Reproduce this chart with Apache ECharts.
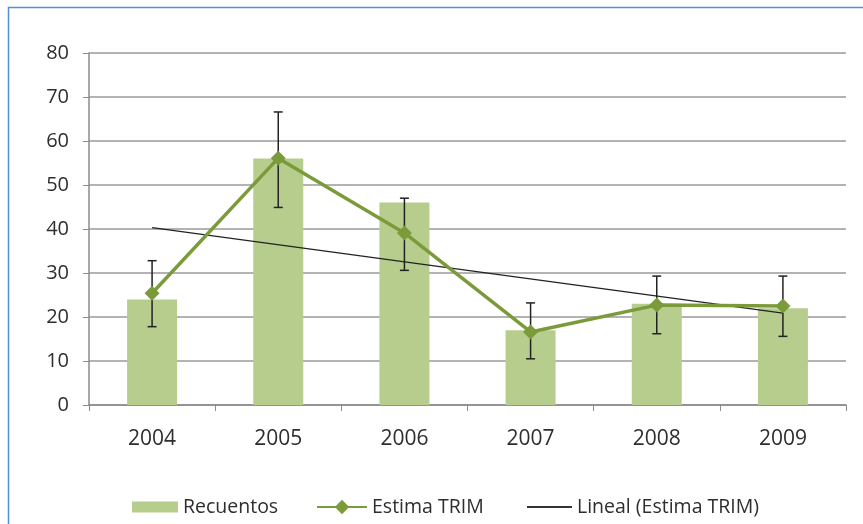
<!DOCTYPE html>
<html><head><meta charset="utf-8">
<script src="https://cdn.jsdelivr.net/npm/echarts@6/dist/echarts.min.js"></script>
<style>html,body{margin:0;padding:0;background:#fff;}#c{width:863px;height:524px;}</style>
</head><body><div id="c"></div>
<script>
const years = ['2004','2005','2006','2007','2008','2009'];
const recuentos = [24, 56, 46, 17, 23, 22];
const estimaTrim = [25.4, 56.1, 39.1, 16.6, 22.7, 22.5];
const errLow = [17.8, 44.9, 30.6, 10.5, 16.2, 15.6];
const errHigh = [32.8, 66.6, 47.0, 23.2, 29.3, 29.3];
const trendStart = 40.3;
const trendEnd = 20.9;
const yTicks = [0, 10, 20, 30, 40, 50, 60, 70, 80];

const font = '"Open Sans", Lato, sans-serif';
const txt = '#2e2e2e';
const barColor = '#b6cd8e';
const lineColor = '#7b9b3b';
const legText = {fontFamily: font, fontSize: 19.5, color: txt};

const chart = echarts.init(document.getElementById('c'));
chart.setOption({
  animation: false,
  graphic: [{
    type: 'rect', left: 6, top: 5, shape: {width: 900, height: 600},
    style: {fill: 'none', stroke: '#4f8fdc', lineWidth: 1.5}, silent: true
  }],
  grid: {left: 89, right: 17, top: 53, bottom: 119},
  legend: [
    {left: 127, top: 492, itemWidth: 46, itemHeight: 11, textStyle: legText,
      data: [{name: 'Recuentos', icon: 'rect'}]},
    {left: 311, top: 492, itemWidth: 50, itemHeight: 18, textStyle: legText,
      data: [{name: 'Estima TRIM'}]},
    {left: 522, top: 492, itemWidth: 45, itemHeight: 2, textStyle: legText,
      data: [{name: 'Lineal (Estima TRIM)', icon: 'rect'}]}
  ],
  xAxis: {
    type: 'category', data: years,
    axisLine: {lineStyle: {color: '#8a8a8a', width: 1.5}},
    axisTick: {show: true, length: 6, lineStyle: {color: '#8a8a8a'}},
    axisLabel: {fontFamily: font, fontSize: 21, color: txt, margin: 24}
  },
  yAxis: {
    type: 'value', min: 0, max: 80, interval: 10,
    axisLine: {show: true, lineStyle: {color: '#8a8a8a', width: 1.5}},
    axisTick: {show: true, length: 6, lineStyle: {color: '#8a8a8a'}},
    splitLine: {lineStyle: {color: '#9a9a9a', width: 1.5}},
    axisLabel: {fontFamily: font, fontSize: 20, color: txt, margin: 20,
      formatter: v => yTicks.includes(v) ? String(v) : ''}
  },
  series: [
    {name: 'Recuentos', type: 'bar', data: recuentos, barWidth: 50,
      itemStyle: {color: barColor}},
    {name: 'Lineal (Estima TRIM)', type: 'line', data: [[0, trendStart], [5, trendEnd]],
      symbol: 'none', lineStyle: {color: '#222', width: 1.3}, itemStyle: {color: '#333'}, z: 3},
    {name: 'errores', type: 'custom', z: 4,
      data: years.map((y, i) => [i, errLow[i], errHigh[i]]),
      renderItem: function (params, api) {
        const lo = api.coord([api.value(0), api.value(1)]);
        const hi = api.coord([api.value(0), api.value(2)]);
        const w = 4.5;
        const st = {stroke: '#222', lineWidth: 1.5};
        return {type: 'group', children: [
          {type: 'line', shape: {x1: lo[0], y1: lo[1], x2: hi[0], y2: hi[1]}, style: st},
          {type: 'line', shape: {x1: lo[0]-w, y1: lo[1], x2: lo[0]+w, y2: lo[1]}, style: st},
          {type: 'line', shape: {x1: hi[0]-w, y1: hi[1], x2: hi[0]+w, y2: hi[1]}, style: st}
        ]};
      }},
    {name: 'Estima TRIM', type: 'line', data: estimaTrim, symbol: 'diamond', symbolSize: 15,
      lineStyle: {color: lineColor, width: 3.5}, itemStyle: {color: lineColor}, z: 5}
  ]
});
</script></body></html>
